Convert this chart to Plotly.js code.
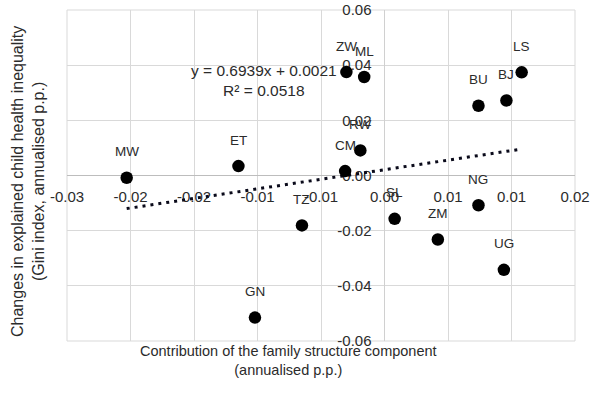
<!DOCTYPE html>
<html>
<head>
<meta charset="utf-8">
<script src="https://cdn.plot.ly/plotly-3.0.1.min.js"></script>
<style>
  html, body { margin: 0; padding: 0; background: #ffffff; }
  #chart { width: 600px; height: 394px; }
</style>
</head>
<body>
<div id="chart"></div>
<script>
// Country codes and their values
const countries = ['MW', 'ET', 'ZW', 'ML', 'CM', 'RW', 'BU', 'BJ', 'LS', 'TZ', 'GN', 'SL', 'ZM', 'NG', 'UG'];
// Contribution of the family structure component (annualised p.p.)
const familyContribution = [-0.0203, -0.0115, -0.0030, -0.0016, -0.0031, -0.0019, 0.0074, 0.0096, 0.0108,
                            -0.0065, -0.0102, 0.0008, 0.0042, 0.0074, 0.0094];
// Change in explained child health inequality (Gini index, annualised p.p.)
const giniChange = [-0.0008, 0.0034, 0.0375, 0.0357, 0.0016, 0.0091, 0.0253, 0.0272, 0.0374,
                    -0.0181, -0.0515, -0.0157, -0.0232, -0.0108, -0.0342];

// Linear trend as reported
const trendSlope = 0.6939;
const trendIntercept = 0.0021;
const trendR2 = 0.0518;

// Axis ticks and labels
const xTickVals = [-0.025, -0.02, -0.015, -0.01, -0.005, 0, 0.005, 0.01, 0.015];
const xTickText = ['-0.03', '-0.02', '-0.02', '-0.01', '-0.01', '0.00', '0.01', '0.01', '0.02'];
const yTickVals = [-0.06, -0.04, -0.02, 0, 0.02, 0.04, 0.06];
const yTickText = ['-0.06', '-0.04', '-0.02', '0.00', '0.02', '0.04', '0.06'];

const xTitle = 'Contribution of the family structure component<br>(annualised p.p.)';
const yTitle = 'Changes in explained child health inequality<br>(Gini index, annualised p.p.)';

const FONT = 'Liberation Sans, Arial, sans-serif';
const TEXT = '#2b2b2b';

// Trend line spans the observed x range
const xMin = Math.min(...familyContribution);
const xMax = Math.max(...familyContribution);
const trendX = [xMin, xMax];
const trendY = trendX.map(v => trendSlope * v + trendIntercept);

const points = {
  type: 'scatter', mode: 'markers',
  x: familyContribution, y: giniChange,
  marker: { color: '#000000', size: 12.5 },
  hoverinfo: 'skip', showlegend: false
};

const trend = {
  type: 'scatter', mode: 'lines',
  x: trendX, y: trendY,
  line: { color: '#0a0a1a', width: 3, dash: '3px,5px' },
  hoverinfo: 'skip', showlegend: false
};

const labelNotes = countries.map((c, i) => ({
  x: familyContribution[i], y: giniChange[i], xref: 'x', yref: 'y',
  text: c, showarrow: false, yshift: 26,
  font: { family: FONT, size: 13.5, color: TEXT }
}));

const layout = {
  width: 600, height: 394,
  margin: { l: 67, r: 25, t: 10, b: 53 },
  paper_bgcolor: '#ffffff', plot_bgcolor: '#ffffff',
  font: { family: FONT, size: 15, color: TEXT },
  xaxis: {
    range: [-0.025, 0.015],
    tickmode: 'array', tickvals: xTickVals, ticktext: xTickText,
    showgrid: true, gridcolor: '#d9d9d9', gridwidth: 1,
    zeroline: true, zerolinecolor: '#d0d0d0', zerolinewidth: 1,
    showline: false, ticks: '',
    anchor: 'free', position: 0.5,
    ticklabelstandoff: 10,
    layer: 'below traces',
    tickfont: { family: FONT, size: 15, color: TEXT }
  },
  yaxis: {
    range: [-0.06, 0.06],
    tickmode: 'array', tickvals: yTickVals, ticktext: yTickText,
    showgrid: true, gridcolor: '#d9d9d9', gridwidth: 1,
    zeroline: true, zerolinecolor: '#bdbdbd', zerolinewidth: 1.5,
    showline: false, ticks: '',
    anchor: 'free', position: 0.625,
    ticklabelstandoff: 13,
    layer: 'below traces',
    tickfont: { family: FONT, size: 15, color: TEXT }
  },
  shapes: [{
    type: 'rect', xref: 'paper', yref: 'paper', x0: 0, x1: 1, y0: 0, y1: 1,
    line: { color: '#d9d9d9', width: 1 }, layer: 'below'
  }],
  annotations: labelNotes.concat([
    {
      xref: 'x', yref: 'y', x: -0.0095, y: 0.0345,
      text: 'y = ' + trendSlope.toFixed(4) + 'x + ' + trendIntercept.toFixed(4) + '<br>R² = ' + trendR2.toFixed(4),
      showarrow: false, align: 'center',
      font: { family: FONT, size: 15.5, color: TEXT }
    },
    {
      xref: 'paper', yref: 'paper', x: 0.437, y: -0.058,
      xanchor: 'center', yanchor: 'middle',
      text: xTitle, showarrow: false, align: 'center',
      font: { family: FONT, size: 14.5, color: TEXT }
    },
    {
      xref: 'paper', yref: 'paper', x: -0.077, y: 0.483,
      xanchor: 'center', yanchor: 'middle', textangle: -90,
      text: yTitle, showarrow: false, align: 'center',
      font: { family: FONT, size: 16, color: TEXT }
    }
  ])
};

Plotly.newPlot('chart', [trend, points], layout, { displayModeBar: false, staticPlot: true });
</script>
</body>
</html>
